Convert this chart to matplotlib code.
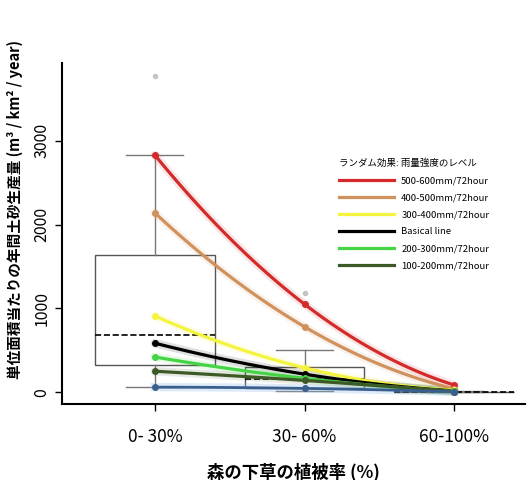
import numpy as np
import matplotlib
matplotlib.use('Agg')
import matplotlib.pyplot as plt

plt.rcParams['font.family'] = ['Noto Sans CJK JP', 'DejaVu Sans']

# 森の下草の植被率 categories
categories = ['0- 30%', '30- 60%', '60-100%']

# 雨量強度ごとの推定線 (values at each category)
red_vals = [2830, 1050, 85]
orange_vals = [2140, 780, 40]
yellow_vals = [910, 290, 25]
black_vals = [585, 215, 15]
green_vals = [420, 165, 10]
dkgreen_vals = [250, 140, 8]
blue_vals = [60, 45, 5]

line_labels = ['500-600mm/72hour', '400-500mm/72hour', '300-400mm/72hour',
               'Basical line', '200-300mm/72hour', '100-200mm/72hour']
line_colors = ['#d42a2a', '#d0915c', '#f4f43e', '#000000', '#44d444', '#3d5a26']

# box statistics per category
box_q1 = [323, 48, 0]
box_med = [681, 155, 0]
box_q3 = [1637, 299, 5]
box_lo = [60, 20, 0]
box_hi = [2830, 502, 10]
box_fliers = [[3775], [1183], []]

x = np.arange(1, len(categories) + 1)

fig = plt.figure(figsize=(5.3, 4.8), dpi=100)
ax = fig.add_axes([0.117, 0.158, 0.873, 0.711])

stats = []
for i in range(len(categories)):
    stats.append(dict(med=box_med[i], q1=box_q1[i], q3=box_q3[i],
                      whislo=box_lo[i], whishi=box_hi[i], fliers=box_fliers[i]))
ax.bxp(stats, positions=x, widths=0.8, showfliers=True, patch_artist=True,
       boxprops=dict(facecolor='white', edgecolor='#555555', linewidth=1),
       whiskerprops=dict(color='#777777', linewidth=1),
       capprops=dict(color='#777777', linewidth=1),
       capwidths=0.38,
       medianprops=dict(color='black', linestyle='--', linewidth=1.2),
       flierprops=dict(marker='o', markersize=3, markerfacecolor='#aaaaaa',
                       markeredgecolor='#aaaaaa', alpha=0.6))

all_vals = [red_vals, orange_vals, yellow_vals, black_vals, green_vals, dkgreen_vals]
xs = np.linspace(1, 3, 100)
for vals, col, lab in zip(all_vals, line_colors, line_labels):
    coef = np.polyfit(x, vals, 2)
    ys = np.polyval(coef, xs)
    ax.plot(xs, ys, color=col, linewidth=6, alpha=0.12, zorder=3, solid_capstyle='round')
    ax.plot(xs, ys, color=col, linewidth=2.3, zorder=4, label=lab)
    ax.plot(x, vals, 'o', color=col, markersize=4, zorder=5)

coef = np.polyfit(x, blue_vals, 2)
ax.plot(xs, np.polyval(coef, xs), color='#8fc0e8', linewidth=6, alpha=0.3, zorder=3)
ax.plot(xs, np.polyval(coef, xs), color='#3a5f8f', linewidth=2, zorder=4)
ax.plot(x, blue_vals, 'o', color='#3a5f8f', markersize=4, zorder=5)

ax.set_xlim(0.38, 3.47)
ax.set_ylim(-143, 3930)
ax.set_xticks(x)
ax.set_xticklabels(categories, fontsize=12.5)
ax.set_yticks([0, 1000, 2000, 3000])
ax.set_yticklabels(['0', '1000', '2000', '3000'], rotation=90, va='center', fontsize=11.5)
ax.tick_params(axis='both', direction='out', length=5, width=1)
ax.tick_params(axis='x', pad=12)
for s in ['top', 'right']:
    ax.spines[s].set_visible(False)
ax.spines['left'].set_linewidth(1.5)
ax.spines['bottom'].set_linewidth(1.5)

ax.set_xlabel('森の下草の植被率 (%)', fontsize=12.5, fontweight='bold', labelpad=12)
ax.set_ylabel('単位面積当たりの年間土砂生産量 (m³ / km² / year)', fontsize=10.5,
              fontweight='bold')
ax.yaxis.set_label_coords(-0.085, 0.57)

leg = ax.legend(loc='upper left', bbox_to_anchor=(0.58, 0.745), frameon=False,
                fontsize=6.8, title='ランダム効果: 雨量強度のレベル',
                title_fontsize=6.8, handlelength=5.8, labelspacing=0.85)
leg._legend_box.align = 'left'

fig.savefig('out.png', dpi=100)
